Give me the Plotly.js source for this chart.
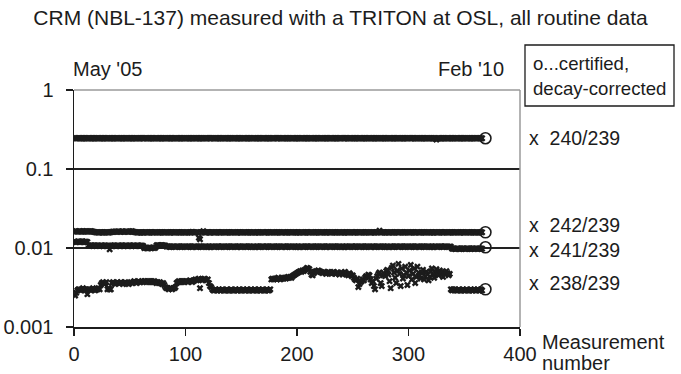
<!DOCTYPE html>
<html>
<head>
<meta charset="utf-8">
<script src="https://cdn.plot.ly/plotly-3.0.1.min.js"></script>
<style>html,body{margin:0;padding:0;background:#fff;}#chart{width:681px;height:374px;}</style>
</head>
<body>
<div id="chart"></div>
<script>
const ratio240 = [
0.246,0.245,0.245,0.246,0.245,0.244,0.245,0.245,0.246,0.245,0.245,0.244,0.245,0.246,0.245,0.245,0.245,0.244,0.245,0.246,
0.245,0.245,0.244,0.245,0.246,0.245,0.245,0.245,0.244,0.245,0.246,0.245,0.245,0.244,0.245,0.245,0.246,0.245,0.245,0.244,
0.245,0.246,0.245,0.245,0.244,0.245,0.245,0.246,0.245,0.245,0.245,0.244,0.245,0.246,0.245,0.245,0.244,0.245,0.245,0.246,
0.246,0.245,0.245,0.246,0.245,0.244,0.245,0.245,0.246,0.245,0.245,0.244,0.245,0.246,0.245,0.245,0.245,0.244,0.245,0.246,
0.245,0.245,0.244,0.245,0.246,0.245,0.245,0.245,0.244,0.245,0.246,0.245,0.245,0.244,0.245,0.245,0.246,0.245,0.245,0.244,
0.245,0.246,0.245,0.245,0.244,0.245,0.245,0.246,0.245,0.245,0.245,0.244,0.245,0.246,0.245,0.245,0.244,0.245,0.245,0.246,
0.246,0.245,0.245,0.246,0.245,0.244,0.245,0.245,0.246,0.245,0.245,0.244,0.245,0.246,0.245,0.245,0.245,0.244,0.245,0.246,
0.245,0.245,0.244,0.245,0.246,0.245,0.245,0.245,0.244,0.245,0.246,0.245,0.245,0.244,0.245,0.245,0.246,0.245,0.245,0.244,
0.245,0.246,0.245,0.245,0.244,0.245,0.245,0.246,0.245,0.245,0.245,0.244,0.245,0.246,0.245,0.245,0.244,0.245,0.245,0.246,
0.246,0.245,0.245,0.246,0.245,0.244,0.245,0.245,0.246,0.245,0.245,0.244,0.245,0.246,0.245,0.245,0.245,0.244,0.245,0.246,
0.245,0.245,0.244,0.245,0.246,0.245,0.245,0.245,0.244,0.245,0.246,0.245,0.245,0.244,0.245,0.245,0.246,0.245,0.245,0.244,
0.245,0.246,0.245,0.245,0.244,0.245,0.245,0.246,0.245,0.245,0.245,0.244,0.245,0.246,0.245,0.245,0.244,0.245,0.245,0.246,
0.246,0.245,0.245,0.246,0.245,0.244,0.245,0.245,0.246,0.245,0.245,0.244,0.245,0.246,0.245,0.245,0.245,0.244,0.245,0.246,
0.245,0.245,0.244,0.245,0.246,0.245,0.245,0.245,0.244,0.245,0.246,0.245,0.245,0.244,0.245,0.245,0.246,0.245,0.245,0.244,
0.245,0.246,0.245,0.245,0.244,0.245,0.245,0.246,0.245,0.245,0.245,0.244,0.245,0.246,0.245,0.245,0.244,0.245,0.245,0.246,
0.246,0.245,0.245,0.246,0.245,0.244,0.245,0.245,0.246,0.245,0.245,0.244,0.245,0.246,0.245,0.245,0.245,0.244,0.245,0.246,
0.245,0.245,0.244,0.245,0.236,0.245,0.245,0.245,0.244,0.245,0.246,0.245,0.245,0.244,0.245,0.245,0.246,0.245,0.245,0.244,
0.245,0.246,0.245,0.245,0.244,0.245,0.245,0.246,0.245,0.245,0.245,0.244,0.245,0.246,0.245,0.245,0.244,0.245,0.245,0.246,
0.245,0.246,0.245,0.245,0.244,0.245
];
const ratio242 = [
0.0162,0.0163,0.0161,0.0162,0.0163,0.0162,0.0161,0.0163,0.0162,0.0162,0.0163,0.0161,0.0162,0.0162,0.0163,0.0162,0.0161,0.0160,0.0159,0.0158,
0.0158,0.0157,0.0158,0.0159,0.0158,0.0157,0.0158,0.0158,0.0159,0.0158,0.0157,0.0158,0.0159,0.0160,0.0161,0.0160,0.0161,0.0160,0.0161,0.0162,
0.0161,0.0160,0.0162,0.0161,0.0160,0.0161,0.0162,0.0161,0.0160,0.0162,0.0161,0.0163,0.0161,0.0160,0.0159,0.0158,0.0157,0.0158,0.0158,0.0157,
0.0158,0.0157,0.0158,0.0159,0.0158,0.0157,0.0158,0.0158,0.0159,0.0158,0.0157,0.0158,0.0159,0.0158,0.0158,0.0157,0.0158,0.0159,0.0158,0.0158,
0.0157,0.0158,0.0159,0.0158,0.0158,0.0157,0.0158,0.0159,0.0158,0.0157,0.0158,0.0158,0.0159,0.0158,0.0157,0.0158,0.0158,0.0159,0.0158,0.0157,
0.0158,0.0157,0.0158,0.0159,0.0158,0.0160,0.0158,0.0157,0.0158,0.0159,0.0158,0.0135,0.0129,0.0158,0.0159,0.0163,0.0158,0.0157,0.0158,0.0159,
0.0158,0.0157,0.0158,0.0159,0.0158,0.0157,0.0158,0.0158,0.0159,0.0158,0.0157,0.0158,0.0159,0.0158,0.0158,0.0157,0.0158,0.0159,0.0158,0.0158,
0.0157,0.0158,0.0159,0.0158,0.0158,0.0157,0.0158,0.0159,0.0158,0.0157,0.0158,0.0158,0.0159,0.0158,0.0157,0.0158,0.0158,0.0159,0.0158,0.0157,
0.0158,0.0157,0.0158,0.0159,0.0158,0.0157,0.0158,0.0158,0.0159,0.0158,0.0157,0.0158,0.0159,0.0158,0.0158,0.0157,0.0158,0.0159,0.0158,0.0158,
0.0157,0.0158,0.0159,0.0158,0.0158,0.0157,0.0158,0.0159,0.0158,0.0157,0.0158,0.0158,0.0159,0.0158,0.0157,0.0158,0.0158,0.0159,0.0158,0.0157,
0.0158,0.0157,0.0158,0.0159,0.0158,0.0157,0.0158,0.0158,0.0159,0.0158,0.0157,0.0158,0.0159,0.0158,0.0158,0.0157,0.0158,0.0159,0.0158,0.0158,
0.0157,0.0158,0.0159,0.0158,0.0158,0.0157,0.0158,0.0159,0.0158,0.0157,0.0158,0.0158,0.0159,0.0158,0.0157,0.0158,0.0158,0.0159,0.0158,0.0157,
0.0158,0.0157,0.0158,0.0159,0.0158,0.0157,0.0158,0.0158,0.0159,0.0158,0.0157,0.0158,0.0159,0.0158,0.0158,0.0157,0.0158,0.0159,0.0158,0.0158,
0.0157,0.0158,0.0159,0.0158,0.0158,0.0157,0.0158,0.0159,0.0158,0.0157,0.0158,0.0158,0.0159,0.0166,0.0157,0.0158,0.0158,0.0159,0.0158,0.0157,
0.0158,0.0157,0.0158,0.0159,0.0158,0.0157,0.0158,0.0158,0.0159,0.0158,0.0157,0.0158,0.0159,0.0158,0.0158,0.0157,0.0158,0.0159,0.0158,0.0158,
0.0157,0.0158,0.0159,0.0158,0.0158,0.0157,0.0158,0.0159,0.0158,0.0157,0.0158,0.0158,0.0159,0.0158,0.0157,0.0158,0.0158,0.0159,0.0158,0.0157,
0.0158,0.0157,0.0158,0.0159,0.0158,0.0157,0.0158,0.0158,0.0159,0.0158,0.0157,0.0158,0.0159,0.0158,0.0158,0.0157,0.0158,0.0159,0.0158,0.0158,
0.0157,0.0158,0.0159,0.0158,0.0158,0.0157,0.0158,0.0159,0.0158,0.0157,0.0158,0.0158,0.0159,0.0158,0.0157,0.0158,0.0158,0.0159,0.0158,0.0157,
0.0158,0.0157,0.0158,0.0158,0.0159,0.0158
];
const ratio241 = [
0.0120,0.0119,0.0120,0.0121,0.0119,0.0120,0.0120,0.0121,0.0119,0.0120,0.0120,0.0119,0.0108,0.0107,0.0108,0.0107,0.0106,0.0107,0.0108,0.0107,
0.0108,0.0107,0.0106,0.0107,0.0107,0.0106,0.0107,0.0108,0.0107,0.0106,0.0107,0.0096,0.0107,0.0106,0.0107,0.0108,0.0107,0.0106,0.0107,0.0107,
0.0106,0.0107,0.0108,0.0107,0.0106,0.0107,0.0107,0.0106,0.0107,0.0108,0.0107,0.0106,0.0107,0.0107,0.0106,0.0107,0.0108,0.0107,0.0106,0.0107,
0.0107,0.0106,0.0100,0.0101,0.0100,0.0099,0.0100,0.0101,0.0100,0.0100,0.0101,0.0100,0.0101,0.0108,0.0109,0.0108,0.0107,0.0108,0.0109,0.0108,
0.0108,0.0107,0.0104,0.0105,0.0104,0.0103,0.0104,0.0104,0.0105,0.0104,0.0103,0.0104,0.0105,0.0104,0.0104,0.0103,0.0104,0.0105,0.0104,0.0104,
0.0103,0.0104,0.0105,0.0104,0.0104,0.0103,0.0104,0.0105,0.0104,0.0103,0.0104,0.0104,0.0105,0.0104,0.0103,0.0104,0.0104,0.0105,0.0104,0.0103,
0.0104,0.0103,0.0104,0.0105,0.0104,0.0103,0.0104,0.0104,0.0105,0.0104,0.0103,0.0104,0.0105,0.0104,0.0104,0.0103,0.0104,0.0105,0.0104,0.0104,
0.0103,0.0104,0.0105,0.0104,0.0104,0.0103,0.0104,0.0105,0.0104,0.0103,0.0104,0.0104,0.0105,0.0104,0.0103,0.0104,0.0104,0.0105,0.0104,0.0103,
0.0104,0.0103,0.0104,0.0105,0.0104,0.0103,0.0104,0.0104,0.0105,0.0104,0.0103,0.0104,0.0105,0.0104,0.0104,0.0103,0.0104,0.0105,0.0104,0.0104,
0.0103,0.0104,0.0105,0.0104,0.0104,0.0103,0.0104,0.0105,0.0104,0.0103,0.0104,0.0104,0.0105,0.0104,0.0103,0.0104,0.0104,0.0105,0.0104,0.0103,
0.0104,0.0103,0.0104,0.0105,0.0104,0.0103,0.0104,0.0104,0.0105,0.0104,0.0103,0.0104,0.0105,0.0104,0.0104,0.0103,0.0104,0.0105,0.0104,0.0104,
0.0103,0.0104,0.0105,0.0104,0.0104,0.0103,0.0104,0.0105,0.0104,0.0103,0.0104,0.0104,0.0105,0.0104,0.0103,0.0104,0.0104,0.0105,0.0104,0.0103,
0.0104,0.0103,0.0104,0.0105,0.0104,0.0103,0.0104,0.0104,0.0105,0.0104,0.0103,0.0104,0.0105,0.0104,0.0104,0.0103,0.0104,0.0105,0.0104,0.0104,
0.0103,0.0104,0.0105,0.0104,0.0104,0.0103,0.0104,0.0105,0.0104,0.0103,0.0104,0.0104,0.0105,0.0104,0.0103,0.0104,0.0104,0.0105,0.0104,0.0103,
0.0104,0.0103,0.0104,0.0105,0.0104,0.0103,0.0104,0.0104,0.0105,0.0104,0.0103,0.0104,0.0105,0.0104,0.0104,0.0103,0.0104,0.0105,0.0104,0.0104,
0.0103,0.0104,0.0105,0.0104,0.0104,0.0103,0.0104,0.0105,0.0104,0.0103,0.0104,0.0104,0.0105,0.0104,0.0103,0.0104,0.0104,0.0105,0.0104,0.0103,
0.0104,0.0103,0.0104,0.0105,0.0104,0.0103,0.0104,0.0104,0.0105,0.0104,0.0103,0.0104,0.0105,0.0104,0.0104,0.0103,0.0104,0.0104,0.0098,0.0098,
0.0098,0.0097,0.0098,0.0099,0.0098,0.0097,0.0098,0.0098,0.0099,0.0098,0.0097,0.0098,0.0099,0.0098,0.0098,0.0097,0.0098,0.0099,0.0098,0.0098,
0.0098,0.0097,0.0098,0.0099,0.0098,0.0098
];
const ratio238 = [
0.0025,0.0027,0.0029,0.0030,0.0030,0.0029,0.0030,0.0031,0.0030,0.0029,0.0030,0.0026,0.0030,0.0030,0.0029,0.0030,0.0031,0.0030,0.0029,0.0030,
0.0030,0.0031,0.0030,0.0034,0.0036,0.0037,0.0035,0.0036,0.0037,0.0030,0.0031,0.0030,0.0030,0.0036,0.0037,0.0036,0.0035,0.0036,0.0037,0.0036,
0.0036,0.0037,0.0036,0.0035,0.0036,0.0037,0.0036,0.0036,0.0035,0.0036,0.0037,0.0036,0.0037,0.0038,0.0037,0.0036,0.0037,0.0038,0.0037,0.0037,
0.0038,0.0037,0.0038,0.0038,0.0037,0.0038,0.0037,0.0038,0.0037,0.0038,0.0037,0.0038,0.0037,0.0036,0.0037,0.0036,0.0037,0.0036,0.0035,0.0036,
0.0034,0.0032,0.0031,0.0031,0.0030,0.0031,0.0031,0.0030,0.0031,0.0031,0.0032,0.0036,0.0037,0.0038,0.0037,0.0038,0.0037,0.0038,0.0037,0.0038,
0.0038,0.0037,0.0038,0.0039,0.0038,0.0037,0.0038,0.0039,0.0040,0.0039,0.0040,0.0041,0.0031,0.0040,0.0039,0.0040,0.0041,0.0040,0.0039,0.0040,
0.0036,0.0033,0.0032,0.0030,0.0029,0.0029,0.0030,0.0029,0.0029,0.0030,0.0029,0.0029,0.0030,0.0029,0.0029,0.0029,0.0030,0.0029,0.0029,0.0029,
0.0030,0.0029,0.0029,0.0029,0.0030,0.0029,0.0029,0.0030,0.0029,0.0029,0.0029,0.0030,0.0029,0.0029,0.0030,0.0029,0.0029,0.0029,0.0030,0.0029,
0.0029,0.0030,0.0029,0.0029,0.0029,0.0030,0.0029,0.0029,0.0030,0.0029,0.0029,0.0029,0.0030,0.0029,0.0029,0.0030,0.0040,0.0041,0.0040,0.0041,
0.0041,0.0040,0.0042,0.0041,0.0040,0.0041,0.0042,0.0041,0.0042,0.0041,0.0042,0.0043,0.0042,0.0043,0.0042,0.0044,0.0045,0.0046,0.0047,0.0048,
0.0049,0.0050,0.0051,0.0050,0.0052,0.0051,0.0053,0.0054,0.0056,0.0055,0.0054,0.0050,0.0046,0.0045,0.0048,0.0050,0.0051,0.0050,0.0052,0.0051,
0.0050,0.0049,0.0048,0.0050,0.0049,0.0047,0.0048,0.0050,0.0049,0.0048,0.0047,0.0049,0.0050,0.0048,0.0047,0.0049,0.0048,0.0046,0.0048,0.0049,
0.0047,0.0048,0.0050,0.0046,0.0047,0.0045,0.0048,0.0046,0.0044,0.0045,0.0042,0.0040,0.0039,0.0041,0.0032,0.0035,0.0037,0.0038,0.0040,0.0039,
0.0042,0.0044,0.0043,0.0046,0.0045,0.0040,0.0036,0.0038,0.0033,0.0030,0.0041,0.0044,0.0047,0.0049,0.0036,0.0033,0.0045,0.0048,0.0044,0.0051,
0.0053,0.0046,0.0038,0.0031,0.0056,0.0060,0.0049,0.0042,0.0036,0.0052,0.0063,0.0047,0.0033,0.0055,0.0041,0.0045,0.0058,0.0049,0.0034,0.0044,
0.0052,0.0061,0.0040,0.0047,0.0055,0.0036,0.0043,0.0058,0.0049,0.0045,0.0041,0.0048,0.0053,0.0040,0.0044,0.0050,0.0047,0.0039,0.0043,0.0051,
0.0055,0.0046,0.0042,0.0049,0.0054,0.0048,0.0045,0.0052,0.0047,0.0050,0.0043,0.0049,0.0046,0.0051,0.0048,0.0045,0.0047,0.0030,0.0029,0.0030,
0.0029,0.0030,0.0029,0.0029,0.0030,0.0029,0.0029,0.0029,0.0030,0.0029,0.0029,0.0030,0.0029,0.0029,0.0029,0.0030,0.0029,0.0029,0.0030,0.0029,
0.0029,0.0030,0.0029,0.0029,0.0030,0.0029
];
// Certified, decay-corrected values (open circles)
const certX = [369, 369, 369, 369];
const certY = [0.245, 0.0158, 0.0102, 0.0030];
const seriesLabels = ["240/239", "242/239", "241/239", "238/239"];
const labelY = [0.7975, 0.4304, 0.3249, 0.1857];
const xTicks = [0, 100, 200, 300, 400];
const yTicks = [0.001, 0.01, 0.1, 1];
const yTickText = ["0.001", "0.01", "0.1", "1"];

const FONT = "Liberation Sans, Arial, sans-serif";
const INK = "#1c1c1c";
const idx = arr => arr.map((_, i) => i + 1);

const markerX = {symbol: "x", size: 6, color: INK, line: {width: 0}};
const traces = [ratio240, ratio242, ratio241, ratio238].map(arr => ({
  x: idx(arr), y: arr, type: "scatter", mode: "markers", marker: markerX, hoverinfo: "skip"
}));
traces.push({
  x: certX, y: certY, type: "scatter", mode: "markers",
  marker: {symbol: "circle-open", size: 11, color: INK, line: {width: 1.6, color: INK}}
});

const ann = [];
function txt(text, x, y, xanchor, size) {
  ann.push({text: text, x: x, y: y, xref: "paper", yref: "paper", xanchor: xanchor || "left",
    yanchor: "middle", showarrow: false, font: {family: FONT, size: size || 20, color: INK}, borderpad: 0});
}
txt("May '05", -0.0045, 1.0886, "left");
txt("Feb '10", 0.9664, 1.0886, "right");
txt("o...certified,", 1.0269, 1.1139, "left", 18.6);
txt("decay-corrected", 1.0269, 1.0084, "left", 18.6);
seriesLabels.forEach((s, i) => txt("x\u00a0\u00a0" + s, 1.0179, labelY[i], "left", 19.5));
txt("Measurement", 1.0471, -0.0633, "left");
txt("number", 1.0471, -0.152, "left");

const layout = {
  width: 681, height: 374,
  margin: {l: 74, r: 161, t: 90, b: 47, pad: 0},
  paper_bgcolor: "#fff", plot_bgcolor: "#fff",
  showlegend: false, hovermode: false,
  font: {family: FONT, size: 20, color: INK},
  title: {text: "CRM (NBL-137) measured with a TRITON at OSL, all routine data",
    x: 0.5, xref: "container", xanchor: "center", y: 0.952, yref: "container", yanchor: "middle",
    font: {family: FONT, size: 21, color: INK}},
  xaxis: {range: [0, 400], tickvals: xTicks, ticks: "outside", ticklen: 7, tickwidth: 1.3, tickcolor: INK,
    showline: true, linecolor: INK, linewidth: 1.5, showgrid: false, zeroline: false,
    tickfont: {family: FONT, size: 20, color: INK}, ticklabelstandoff: 1, fixedrange: true},
  yaxis: {type: "log", range: [-3, 0], tickvals: yTicks, ticktext: yTickText, ticks: "outside", ticklen: 7,
    tickwidth: 1.3, tickcolor: INK, showline: true, linecolor: INK, linewidth: 1.5,
    showgrid: true, gridcolor: "#222", gridwidth: 1.2, zeroline: false,
    tickfont: {family: FONT, size: 20, color: INK}, ticklabelstandoff: 8, fixedrange: true},
  shapes: [
    {type: "line", xref: "paper", yref: "paper", x0: 0, x1: 1, y0: 1, y1: 1, line: {color: "#9a9a9a", width: 1.5}, layer: "above"},
    {type: "line", xref: "paper", yref: "paper", x0: 1, x1: 1, y0: 0, y1: 1, line: {color: "#9a9a9a", width: 1.5}, layer: "above"},
    {type: "rect", xref: "paper", yref: "paper", x0: 1.0112, x1: 1.3453, y0: 0.9325, y1: 1.1899, line: {color: INK, width: 1.3}, fillcolor: "rgba(0,0,0,0)"}
  ],
  annotations: ann
};

Plotly.newPlot("chart", traces, layout, {staticPlot: true, displayModeBar: false});
</script>
</body>
</html>
